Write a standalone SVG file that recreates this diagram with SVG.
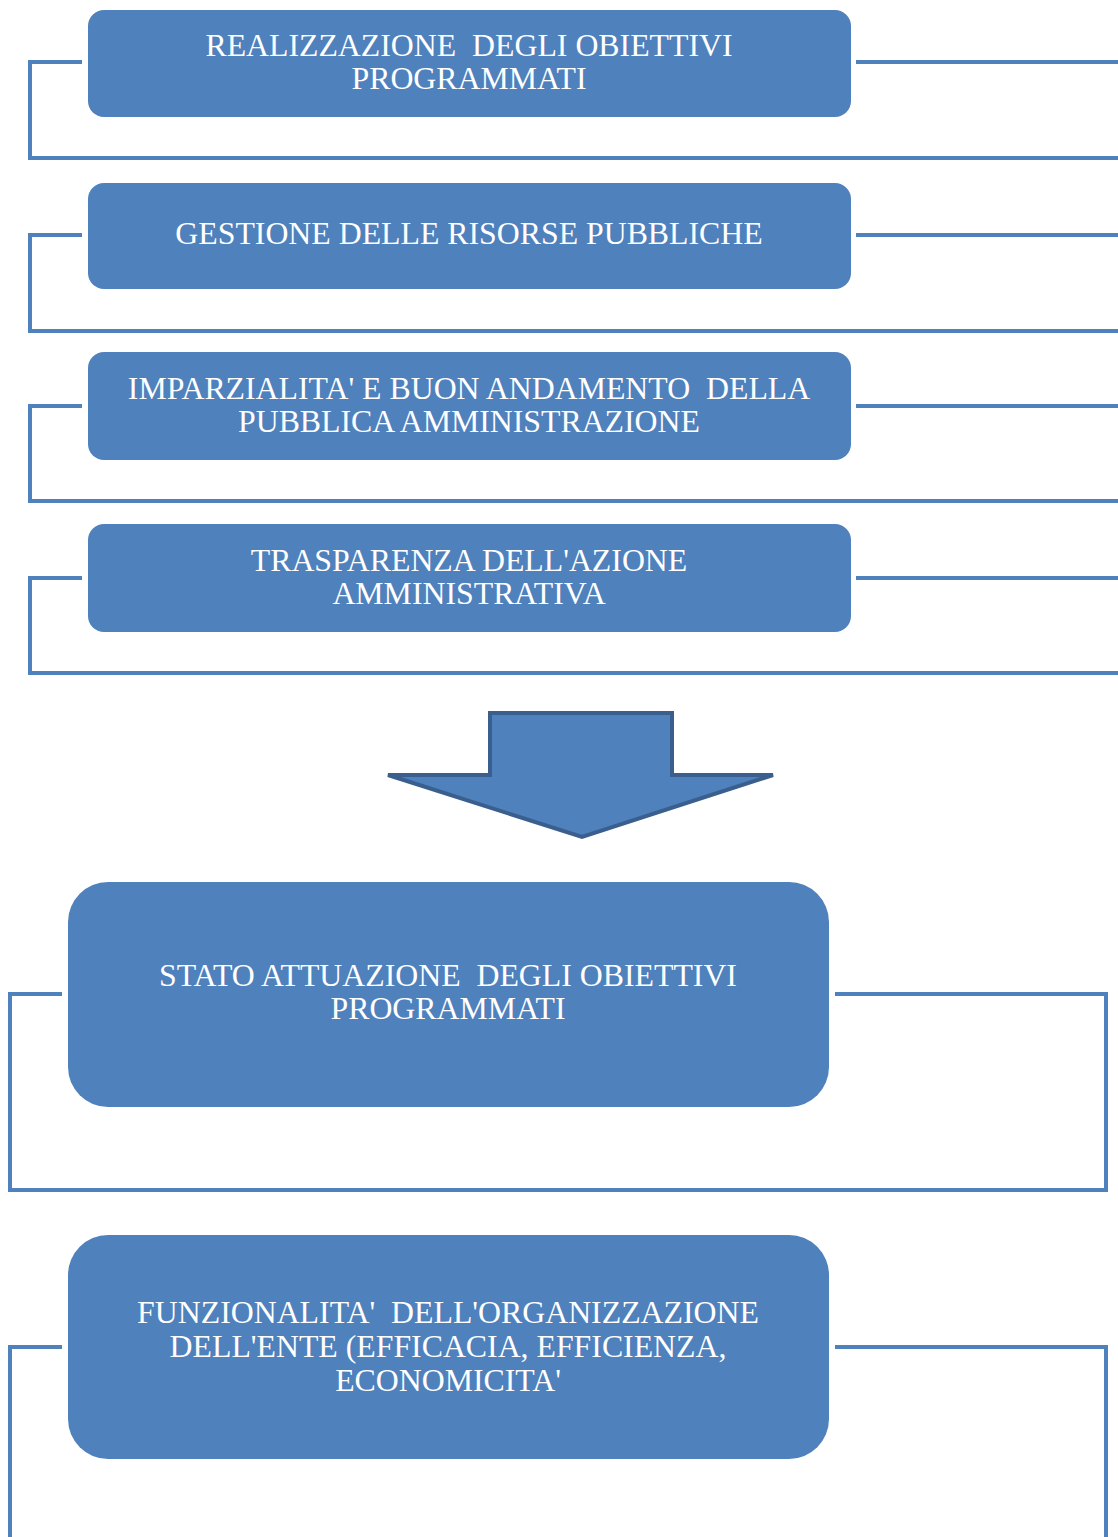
<svg xmlns="http://www.w3.org/2000/svg" width="1118" height="1537" viewBox="0 0 1118 1537">
<style>
.box{fill:#4f81bd;}
.t{font-family:"Liberation Serif","Times New Roman",serif;font-size:31.8px;fill:#ffffff;text-anchor:middle;white-space:pre;}
.c{fill:none;stroke:#4f81bd;stroke-width:4;}
</style>
<rect width="1118" height="1537" fill="#ffffff"/>
<g id="connectors">
<polyline class="c" points="82,62 30,62 30,158 1118,158"/>
<line class="c" x1="856" y1="62" x2="1118" y2="62"/>
<polyline class="c" points="82,235 30,235 30,331 1118,331"/>
<line class="c" x1="856" y1="235" x2="1118" y2="235"/>
<polyline class="c" points="82,406 30,406 30,501 1118,501"/>
<line class="c" x1="856" y1="406" x2="1118" y2="406"/>
<polyline class="c" points="82,578 30,578 30,673 1118,673"/>
<line class="c" x1="856" y1="578" x2="1118" y2="578"/>
<polyline class="c" points="62,994 10,994 10,1190 1106,1190 1106,994 835,994"/>
<polyline class="c" points="62,1347 10,1347 10,1537"/>
<polyline class="c" points="835,1347 1106,1347 1106,1537"/>
</g>
<g id="n1"><rect class="box" x="88" y="10" width="763" height="107" rx="16"/>
<text class="t" x="469" y="56" xml:space="preserve">REALIZZAZIONE  DEGLI OBIETTIVI</text>
<text class="t" x="469" y="89">PROGRAMMATI</text></g>
<g id="n2"><rect class="box" x="88" y="183" width="763" height="106" rx="16"/>
<text class="t" x="469" y="244">GESTIONE DELLE RISORSE PUBBLICHE</text></g>
<g id="n3"><rect class="box" x="88" y="352" width="763" height="108" rx="16"/>
<text class="t" x="469" y="399" xml:space="preserve">IMPARZIALITA' E BUON ANDAMENTO  DELLA</text>
<text class="t" x="469" y="432">PUBBLICA AMMINISTRAZIONE</text></g>
<g id="n4"><rect class="box" x="88" y="524" width="763" height="108" rx="16"/>
<text class="t" x="469" y="571">TRASPARENZA DELL'AZIONE</text>
<text class="t" x="469" y="604">AMMINISTRATIVA</text></g>
<g id="arrow"><polygon points="490,713 672,713 672,775 773,775 582,837 388,775 490,775" fill="#4f81bd" stroke="#3a5f8e" stroke-width="4" stroke-linejoin="miter"/></g>
<g id="n5"><rect class="box" x="68" y="882" width="761" height="225" rx="40"/>
<text class="t" x="448" y="986" xml:space="preserve">STATO ATTUAZIONE  DEGLI OBIETTIVI</text>
<text class="t" x="448" y="1019">PROGRAMMATI</text></g>
<g id="n6"><rect class="box" x="68" y="1235" width="761" height="224" rx="40"/>
<text class="t" x="448" y="1323" xml:space="preserve">FUNZIONALITA'  DELL'ORGANIZZAZIONE</text>
<text class="t" x="448" y="1357">DELL'ENTE (EFFICACIA, EFFICIENZA,</text>
<text class="t" x="448" y="1391">ECONOMICITA'</text></g>
</svg>
